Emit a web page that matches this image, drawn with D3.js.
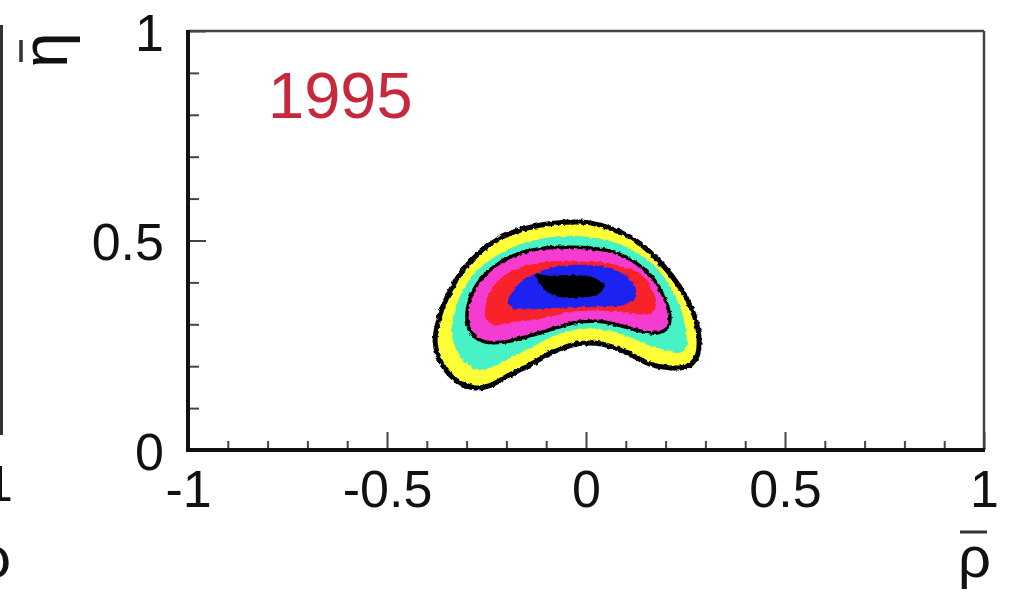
<!DOCTYPE html>
<html>
<head>
<meta charset="utf-8">
<script src="https://cdn.jsdelivr.net/npm/d3@7"></script>
<style>
  html, body { margin: 0; padding: 0; background: #fff; }
  svg { display: block; }
  text { font-family: "Liberation Sans", Arial, sans-serif; }
</style>
</head>
<body>
<div id="chart"></div>
<script>
// Axis ticks and labels
const xTickValues = [-1, -0.5, 0, 0.5, 1];
const xTickLabels = ["-1", "-0.5", "0", "0.5", "1"];
const yTickValues = [0, 0.5, 1];
const yTickLabels = ["0", "0.5", "1"];
const yearLabel = "1995";

// Confidence-region boundaries in (rho-bar, eta-bar), outermost first
const levelYellow = [
  [-0.028,0.544],[0.010,0.542],[0.068,0.527],[0.126,0.499],[0.176,0.458],[0.216,0.415],
  [0.249,0.368],[0.274,0.315],[0.284,0.267],[0.279,0.224],[0.256,0.200],[0.211,0.196],
  [0.161,0.205],[0.103,0.232],[0.043,0.252],[-0.015,0.254],[-0.078,0.236],[-0.136,0.206],
  [-0.196,0.177],[-0.244,0.153],[-0.279,0.148],[-0.327,0.167],[-0.362,0.205],[-0.379,0.258],
  [-0.369,0.315],[-0.344,0.375],[-0.307,0.432],[-0.256,0.480],[-0.193,0.516],[-0.113,0.537]
];
const levelCyan = [
  [-0.028,0.511],[0.035,0.504],[0.090,0.489],[0.143,0.461],[0.186,0.425],[0.216,0.382],
  [0.239,0.334],[0.251,0.282],[0.251,0.243],[0.234,0.232],[0.206,0.237],[0.161,0.249],
  [0.103,0.272],[0.043,0.288],[-0.015,0.288],[-0.078,0.273],[-0.136,0.245],[-0.196,0.217],
  [-0.241,0.196],[-0.269,0.191],[-0.302,0.208],[-0.327,0.241],[-0.337,0.286],[-0.329,0.334],
  [-0.309,0.382],[-0.274,0.427],[-0.226,0.463],[-0.171,0.489],[-0.103,0.506]
];
const levelMagenta = [
  [-0.035,0.484],[0.010,0.482],[0.068,0.473],[0.118,0.451],[0.161,0.418],[0.186,0.384],
  [0.204,0.346],[0.211,0.315],[0.204,0.291],[0.178,0.279],[0.128,0.286],[0.078,0.299],
  [0.028,0.307],[-0.023,0.305],[-0.070,0.293],[-0.136,0.274],[-0.204,0.258],[-0.254,0.258],
  [-0.279,0.270],[-0.296,0.296],[-0.296,0.346],[-0.271,0.399],[-0.229,0.439],[-0.171,0.468],
  [-0.103,0.482]
];
const levelRed = [
  [-0.028,0.450],[0.035,0.448],[0.090,0.438],[0.136,0.420],[0.163,0.389],[0.176,0.353],
  [0.166,0.327],[0.131,0.324],[0.078,0.330],[0.028,0.333],[-0.023,0.331],[-0.078,0.321],
  [-0.136,0.310],[-0.191,0.305],[-0.231,0.298],[-0.251,0.315],[-0.251,0.351],[-0.231,0.392],
  [-0.191,0.425],[-0.141,0.442],[-0.085,0.450]
];
const levelBlue = [
  [-0.196,0.353],[-0.178,0.387],[-0.141,0.415],[-0.090,0.434],[-0.028,0.442],[0.035,0.439],
  [0.085,0.425],[0.118,0.399],[0.126,0.368],[0.101,0.348],[0.048,0.343],[-0.015,0.341],
  [-0.078,0.339],[-0.141,0.336],[-0.183,0.339]
];
const levelCore = [
  [-0.126,0.420],[-0.095,0.416],[-0.065,0.417],[-0.020,0.417],[0.023,0.410],[0.045,0.392],
  [0.032,0.372],[-0.015,0.364],[-0.060,0.364],[-0.092,0.374],[-0.113,0.392]
];
const levelColors = ["#ffff38", "#46f2c6", "#f43cd0", "#f8202c", "#1c22f2", "#050505"];

const W = 1013, H = 594;
const svg = d3.select("#chart").append("svg").attr("width", W).attr("height", H);
svg.append("rect").attr("width", W).attr("height", H).attr("fill", "#fff");

// Grainy edges of the binned likelihood map
const defs = svg.append("defs");
const grain = defs.append("filter").attr("id", "grain")
  .attr("x", "-10%").attr("y", "-10%").attr("width", "120%").attr("height", "120%");
grain.append("feTurbulence").attr("type", "fractalNoise").attr("baseFrequency", 0.28)
  .attr("numOctaves", 1).attr("seed", 7).attr("result", "noise");
grain.append("feDisplacementMap").attr("in", "SourceGraphic").attr("in2", "noise")
  .attr("scale", 4).attr("xChannelSelector", "R").attr("yChannelSelector", "G").attr("result", "disp");
grain.append("feGaussianBlur").attr("in", "disp").attr("stdDeviation", 0.5);

const x = d3.scaleLinear().domain([-1, 1]).range([188, 984]);
const y = d3.scaleLinear().domain([0, 1]).range([450, 31]);

// Right edge of the neighbouring panel
svg.append("line").attr("x1", 1.5).attr("x2", 1.5).attr("y1", 25).attr("y2", 435)
  .attr("stroke", "#333").attr("stroke-width", 3);
svg.append("text").attr("x", -1).attr("y", 501).attr("text-anchor", "middle")
  .attr("font-size", 50).attr("fill", "#111").text("1");
svg.append("text").attr("x", -22).attr("y", 577).attr("font-size", 58).attr("fill", "#111").text("ρ");

// Contour regions
const area = d3.line().x(d => x(d[0])).y(d => y(d[1])).curve(d3.curveCatmullRomClosed.alpha(0.5));
const regions = [levelYellow, levelCyan, levelMagenta, levelRed, levelBlue, levelCore];
const g = svg.append("g").attr("filter", "url(#grain)");
regions.forEach((pts, i) => {
  g.append("path").attr("d", area(pts)).attr("fill", levelColors[i])
    .attr("stroke", i === 0 || i === 2 ? "#000" : "none")
    .attr("stroke-width", i === 0 ? 5 : 3.5)
    .attr("stroke-linejoin", "round");
});

// Minor ticks
const xMinor = d3.range(-9, 10).map(v => v / 10).filter(v => Math.abs(v * 2 - Math.round(v * 2)) > 1e-6);
const yMinor = d3.range(1, 10).map(v => v / 10).filter(v => Math.abs(v - 0.5) > 1e-6);

const xMinorAxis = d3.axisBottom(x).tickValues(xMinor).tickSize(-9).tickSizeOuter(0).tickFormat("");
const yMinorAxis = d3.axisLeft(y).tickValues(yMinor).tickSize(-11).tickSizeOuter(0).tickFormat("");
svg.append("g").attr("transform", "translate(0,450)").call(xMinorAxis);
svg.append("g").attr("transform", "translate(188,0)").call(yMinorAxis);

// Major ticks with labels
const xAxis = d3.axisBottom(x).tickValues(xTickValues).tickSize(-18).tickSizeOuter(0)
  .tickPadding(20).tickFormat((d, i) => xTickLabels[i]);
const yAxis = d3.axisLeft(y).tickValues(yTickValues).tickSize(-18).tickSizeOuter(0)
  .tickPadding(24).tickFormat((d, i) => yTickLabels[i]);
const gx = svg.append("g").attr("transform", "translate(0,450)").call(xAxis);
const gy = svg.append("g").attr("transform", "translate(188,0)").call(yAxis);

[gx, gy].forEach(a => {
  a.select(".domain").remove();
  a.selectAll("text").attr("font-size", 52).attr("fill", "#111")
    .attr("font-family", "Liberation Sans, Arial, sans-serif");
});
gy.selectAll("text").attr("dy", "0.37em");
svg.selectAll(".tick line").attr("stroke", "#444").attr("stroke-width", 2);

// Frame
svg.append("line").attr("x1", 188).attr("x2", 984).attr("y1", 31).attr("y2", 31)
  .attr("stroke", "#444").attr("stroke-width", 2.5);
svg.append("line").attr("x1", 984).attr("x2", 984).attr("y1", 31).attr("y2", 450)
  .attr("stroke", "#444").attr("stroke-width", 2.5);
svg.append("line").attr("x1", 188).attr("x2", 188).attr("y1", 30).attr("y2", 452)
  .attr("stroke", "#111").attr("stroke-width", 4);
svg.append("line").attr("x1", 186).attr("x2", 985).attr("y1", 450).attr("y2", 450)
  .attr("stroke", "#111").attr("stroke-width", 4);

// Year label
svg.append("text").attr("x", 268).attr("y", 118).attr("font-size", 65)
  .attr("fill", "#c8283c").text(yearLabel);

// Axis titles (rho-bar, eta-bar)
svg.append("text").attr("x", 958).attr("y", 577).attr("font-size", 58).attr("fill", "#111").text("ρ");
svg.append("line").attr("x1", 960).attr("x2", 987).attr("y1", 532).attr("y2", 532)
  .attr("stroke", "#333").attr("stroke-width", 3);
svg.append("text").attr("transform", "translate(67,68) rotate(-90)")
  .attr("font-size", 64).attr("fill", "#111").text("η");
svg.append("line").attr("x1", 21).attr("x2", 21).attr("y1", 40).attr("y2", 62)
  .attr("stroke", "#333").attr("stroke-width", 3.5);
</script>
</body>
</html>
